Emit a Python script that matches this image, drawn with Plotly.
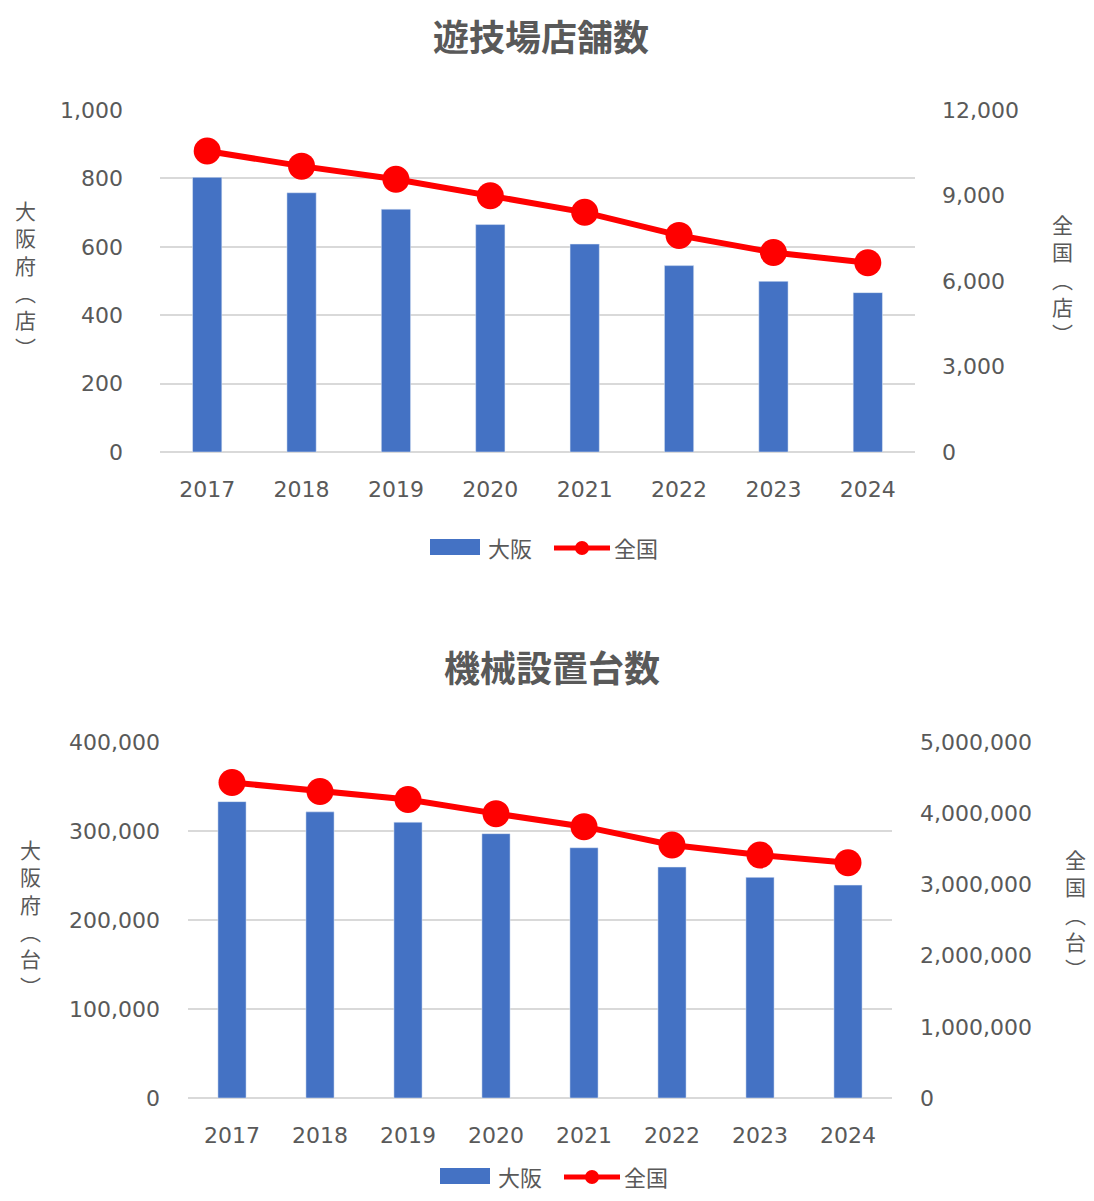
import plotly.graph_objects as go

years = ["2017", "2018", "2019", "2020", "2021", "2022", "2023", "2024"]

# 遊技場店舗数
stores_osaka = [803, 758, 710, 665, 608, 545, 499, 466]
stores_japan = [10560, 10030, 9570, 8990, 8410, 7600, 7000, 6640]

# 機械設置台数
machines_osaka = [333000, 321500, 309900, 297000, 281200, 259500, 247900, 239200]
machines_japan = [4431000, 4304000, 4192000, 3994000, 3811000, 3554000, 3413000, 3304000]

series_names = ["大阪", "全国"]

PAGE_W, PAGE_H = 1094, 1201
OFF = 8  # default body margin of the html page
W, H = PAGE_W - 2 * OFF, PAGE_H - 2 * OFF
FONT = "Noto Sans CJK JP"
NUMFONT = "DejaVu Sans"
GRAY = "#595959"
GRID = "#D9D9D9"
BLUE = "#4472C4"
RED = "#FF0000"


def px_x(x):
    return (x - OFF) / W


def px_y(y):
    return 1 - (y - OFF) / H


fig = go.Figure()

# top chart
fig.add_trace(go.Bar(x=years, y=stores_osaka, name=series_names[0], marker_color=BLUE,
                     width=0.31, xaxis="x", yaxis="y", showlegend=False))
fig.add_trace(go.Scatter(x=years, y=stores_japan, name=series_names[1], mode="lines+markers",
                         line=dict(color=RED, width=6), marker=dict(size=27, color=RED),
                         xaxis="x", yaxis="y2", showlegend=False))
# bottom chart
fig.add_trace(go.Bar(x=years, y=machines_osaka, name=series_names[0], marker_color=BLUE,
                     width=0.32, xaxis="x2", yaxis="y3", showlegend=False))
fig.add_trace(go.Scatter(x=years, y=machines_japan, name=series_names[1], mode="lines+markers",
                         line=dict(color=RED, width=6), marker=dict(size=27, color=RED),
                         xaxis="x2", yaxis="y4", showlegend=False))

tickfont = dict(family=NUMFONT, size=22, color=GRAY)

xcommon = dict(type="category", range=[-0.5, len(years) - 0.5], showgrid=False,
               zeroline=False, showline=False, tickfont=tickfont, ticks="",
               ticklabelstandoff=22, fixedrange=True, automargin=False)

fig.update_layout(
    width=W, height=H,
    margin=dict(l=0, r=0, t=0, b=0, autoexpand=False),
    paper_bgcolor="white", plot_bgcolor="white",
    font=dict(family=FONT, color=GRAY),
    showlegend=False,
    xaxis=dict(domain=[px_x(160), px_x(915)], anchor="y", **xcommon),
    yaxis=dict(domain=[px_y(452), px_y(110)], range=[0, 1000], dtick=200,
               tickformat=",", showgrid=True, gridcolor=GRID, gridwidth=2,
               zeroline=True, zerolinecolor=GRID, zerolinewidth=2, automargin=False,
               tickfont=tickfont, ticklabelstandoff=36, anchor="x"),
    yaxis2=dict(overlaying="y", side="right", anchor="x", range=[0, 12000], dtick=3000,
                tickformat=",", showgrid=False, zeroline=False, automargin=False,
                tickfont=tickfont, ticklabelstandoff=26),
    xaxis2=dict(domain=[px_x(188), px_x(892)], anchor="y3", **xcommon),
    yaxis3=dict(domain=[px_y(1098), px_y(742)], range=[0, 400000], dtick=100000,
                tickformat=",", showgrid=True, gridcolor=GRID, gridwidth=2,
                zeroline=True, zerolinecolor=GRID, zerolinewidth=2, automargin=False,
                tickfont=tickfont, ticklabelstandoff=27, anchor="x2"),
    yaxis4=dict(overlaying="y3", side="right", anchor="x2", range=[0, 5000000], dtick=1000000,
                tickformat=",", showgrid=False, zeroline=False, automargin=False,
                tickfont=tickfont, ticklabelstandoff=27),
)

annotations = [
    dict(text="<b>遊技場店舗数</b>", x=px_x(541), y=px_y(35)),
    dict(text="<b>機械設置台数</b>", x=px_x(552), y=px_y(666)),
    dict(text="大<br>阪<br>府<br>︵<br>店<br>︶", x=px_x(25), y=px_y(279), size=21),
    dict(text="全<br>国<br>︵<br>店<br>︶", x=px_x(1062), y=px_y(279), size=21),
    dict(text="大<br>阪<br>府<br>︵<br>台<br>︶", x=px_x(30), y=px_y(917), size=21),
    dict(text="全<br>国<br>︵<br>台<br>︶", x=px_x(1075), y=px_y(913), size=21),
]
ann_list = []
for a in annotations:
    size = a.pop("size", 36)
    ann_list.append(dict(xref="paper", yref="paper", showarrow=False, xanchor="center",
                         yanchor="middle", font=dict(family=FONT, size=size, color=GRAY), **a))

# legends (drawn per chart: bar swatch + line-with-marker swatch)
shapes = []
for (lx, ly) in [(430, 547), (440, 1176)]:
    shapes.append(dict(type="rect", xref="paper", yref="paper",
                       x0=px_x(lx), x1=px_x(lx + 50), y0=px_y(ly + 8), y1=px_y(ly - 8),
                       fillcolor=BLUE, line=dict(width=0)))
    shapes.append(dict(type="line", xref="paper", yref="paper",
                       x0=px_x(lx + 124), x1=px_x(lx + 180), y0=px_y(ly + 1), y1=px_y(ly + 1),
                       line=dict(color=RED, width=5)))
    shapes.append(dict(type="circle", xref="paper", yref="paper",
                       x0=px_x(lx + 145), x1=px_x(lx + 159), y0=px_y(ly + 8), y1=px_y(ly - 6),
                       fillcolor=RED, line=dict(width=0)))
    ann_list.append(dict(text=series_names[0], xref="paper", yref="paper", showarrow=False,
                         x=px_x(lx + 56), y=px_y(ly), xanchor="left", yanchor="middle",
                         font=dict(family=FONT, size=22, color=GRAY)))
    ann_list.append(dict(text=series_names[1], xref="paper", yref="paper", showarrow=False,
                         x=px_x(lx + 182), y=px_y(ly), xanchor="left", yanchor="middle",
                         font=dict(family=FONT, size=22, color=GRAY)))

fig.update_layout(annotations=ann_list, shapes=shapes)

fig.write_html("out.html")
